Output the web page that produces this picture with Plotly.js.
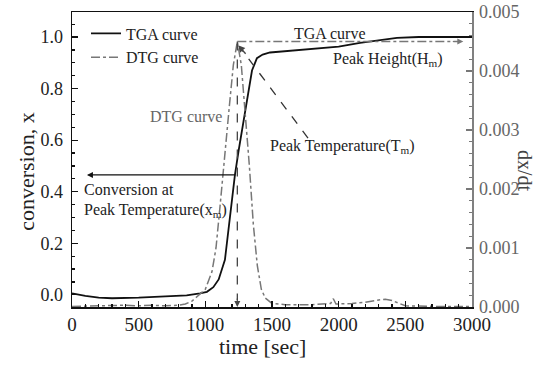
<!DOCTYPE html>
<html>
<head>
<meta charset="utf-8">
<script src="https://cdn.plot.ly/plotly-3.0.1.min.js"></script>
<style>html,body{margin:0;padding:0;background:#fff;}#chart{width:554px;height:365px;}</style>
</head>
<body>
<div id="chart"></div>
<script>
// TGA curve (conversion x vs time)
const tgaTime = [0,100,200,300,500,700,860,960,1012,1060,1100,1147,1185,1222,1250,1283,1320,1350,1387,1430,1485,1700,1837,2000,2160,2332,2437,2600,3000];
const tgaConv = [0.006,-0.004,-0.011,-0.013,-0.011,-0.007,-0.002,0.006,0.012,0.03,0.06,0.136,0.30,0.465,0.56,0.66,0.78,0.87,0.918,0.932,0.94,0.95,0.957,0.963,0.977,0.988,0.997,1.0,1.0];
// DTG curve (dx/dt vs time)
const dtgTime = [0,300,400,500,600,700,800,850,900,950,1000,1050,1080,1110,1150,1180,1210,1240,1270,1300,1330,1360,1390,1420,1450,1500,1600,1800,1940,1960,1980,2100,2200,2300,2350,2400,2450,2500,2700,3000];
const dtgRate = [0.00001,0.00002,0.00003,0.00002,0.00003,0.00002,0.00003,0.00005,0.0001,0.0002,0.0003,0.0006,0.001,0.0017,0.0026,0.0034,0.0041,0.0045,0.0041,0.0033,0.0024,0.0014,0.0007,0.0003,0.00015,0.00006,0.00004,0.00004,0.00006,0.00014,0.00005,0.00006,0.00008,0.00012,0.00013,0.00011,0.00006,0.00002,0.00001,0.00001];
// Tick labels
const xTicks = [0,500,1000,1500,2000,2500,3000];
const yTicks = [0.0,0.2,0.4,0.6,0.8,1.0];
const y2Ticks = [0.000,0.001,0.002,0.003,0.004,0.005];
// Marked points
const peakTime = 1240, peakRate = 0.0045, convAtPeak = 0.465;

const serif = "Liberation Serif, Times New Roman, serif";
const traces = [
  {x: tgaTime, y: tgaConv, name: 'TGA curve', type: 'scatter', mode: 'lines',
   line: {color: '#111', width: 1.8}},
  {x: dtgTime, y: dtgRate, name: 'DTG curve', type: 'scatter', mode: 'lines', yaxis: 'y2',
   line: {color: '#777', width: 1.5, dash: 'dashdot'}}
];
const axFont = {family: serif, size: 18, color: '#222'};
const layout = {
  width: 554, height: 365,
  margin: {l: 72, r: 82, t: 12, b: 58},
  paper_bgcolor: '#fff', plot_bgcolor: '#fff',
  font: {family: serif, color: '#222'},
  showlegend: true,
  legend: {x: 0.035, y: 0.985, xanchor: 'left', yanchor: 'top', bgcolor: 'rgba(0,0,0,0)',
           font: {family: serif, size: 16, color: '#222'}, tracegroupgap: 0, itemwidth: 30},
  xaxis: {range: [0, 3000], tickvals: xTicks, ticks: 'inside', ticklen: 6, tickwidth: 1.2, tickcolor: '#111',
          showline: true, linecolor: '#111', linewidth: 1.5, mirror: true, showgrid: false, zeroline: false,
          tickfont: {family: serif, size: 19, color: '#222'},
          minor: {dtick: 100, ticks: 'inside', ticklen: 3, tickcolor: '#111', showgrid: false}},
  yaxis: {range: [-0.047, 1.097], tickvals: yTicks, tickformat: '.1f', ticks: 'inside', ticklen: 6, tickwidth: 1.2, tickcolor: '#111',
          showline: true, linecolor: '#111', linewidth: 1.5, showgrid: false, zeroline: false,
          tickfont: axFont, ticklabelstandoff: 4,
          minor: {dtick: 0.05, ticks: 'inside', ticklen: 3, tickcolor: '#111', showgrid: false}},
  yaxis2: {range: [0, 0.005], tickvals: y2Ticks, tickformat: '.3f', overlaying: 'y', side: 'right',
           ticks: 'inside', ticklen: 6, tickwidth: 1.2, tickcolor: '#777',
           showline: true, linecolor: '#808080', linewidth: 1.5, showgrid: false, zeroline: false,
           tickfont: {family: serif, size: 18, color: '#666'}, ticklabelstandoff: 2,
           minor: {dtick: 0.0002, ticks: 'inside', ticklen: 3, tickcolor: '#777', showgrid: false}},
  shapes: [
    {type: 'line', xref: 'x', yref: 'y2', x0: peakTime, x1: peakTime, y0: peakRate, y1: 0.00012,
     line: {color: '#444', width: 1.3, dash: 'dash'}},
    {type: 'line', xref: 'x', yref: 'y2', x0: peakTime, x1: 2910, y0: peakRate, y1: peakRate,
     line: {color: '#777', width: 1.3, dash: 'dashdot'}},
    {type: 'line', xref: 'x', yref: 'y', x0: 1770, x1: 1275, y0: 0.608, y1: 0.95,
     line: {color: '#333', width: 1.3, dash: 'dash'}}
  ],
  annotations: [
    // arrows
    {x: 112, y: convAtPeak, ax: 1237, ay: convAtPeak, xref: 'x', yref: 'y', axref: 'x', ayref: 'y',
     showarrow: true, arrowhead: 2, arrowsize: 1, arrowwidth: 1.2, arrowcolor: '#111', text: ''},
    {x: peakTime, y: 0, xref: 'x', yref: 'y2', ax: 0, ay: -10, showarrow: true, arrowhead: 2,
     arrowsize: 1, arrowwidth: 1.2, arrowcolor: '#444', text: ''},
    {x: 2935, y: peakRate, xref: 'x', yref: 'y2', ax: -12, ay: 0, showarrow: true, arrowhead: 2,
     arrowsize: 1, arrowwidth: 1.2, arrowcolor: '#777', text: ''},
    {x: 1245, y: 0.968, xref: 'x', yref: 'y', ax: 9, ay: 10, showarrow: true, arrowhead: 2,
     arrowsize: 1, arrowwidth: 1.4, arrowcolor: '#444', text: ''},
    // texts
    {x: 1935, y: 1.012, xref: 'x', yref: 'y', text: 'TGA curve', showarrow: false,
     font: {family: serif, size: 16, color: '#222'}},
    {x: 2370, y: 0.911, xref: 'x', yref: 'y', text: 'Peak Height(H<sub>m</sub>)', showarrow: false,
     font: {family: serif, size: 16, color: '#222'}},
    {x: 855, y: 0.69, xref: 'x', yref: 'y', text: 'DTG curve', showarrow: false,
     font: {family: serif, size: 16, color: '#666'}},
    {x: 2025, y: 0.574, xref: 'x', yref: 'y', text: 'Peak Temperature(T<sub>m</sub>)', showarrow: false,
     font: {family: serif, size: 16, color: '#222'}},
    {x: 75, y: 0.407, xref: 'x', yref: 'y', xanchor: 'left', text: 'Conversion at', showarrow: false,
     font: {family: serif, size: 16, color: '#222'}},
    {x: 75, y: 0.329, xref: 'x', yref: 'y', xanchor: 'left', text: 'Peak Temperature(x<sub>m</sub>)', showarrow: false,
     font: {family: serif, size: 16, color: '#222'}},
    // axis titles
    {x: 0.475, y: -0.135, xref: 'paper', yref: 'paper', yanchor: 'middle', text: 'time [sec]', showarrow: false,
     font: {family: serif, size: 22, color: '#222'}},
    {x: -0.15, y: 0.46, xref: 'paper', yref: 'paper', text: 'conversion, x', showarrow: false, textangle: -90,
     font: {family: serif, size: 22, color: '#222'}},
    {x: 1.165, y: 0.461, xref: 'paper', yref: 'paper', text: 'dx/dt', showarrow: false, textangle: 90,
     font: {family: serif, size: 20, color: '#444'}}
  ]
};
Plotly.newPlot('chart', traces, layout, {staticPlot: true, displayModeBar: false});
</script>
</body>
</html>
